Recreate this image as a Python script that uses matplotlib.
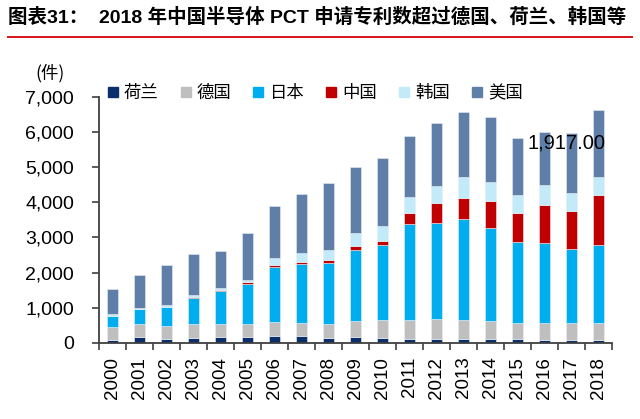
import matplotlib
matplotlib.use("Agg")
import matplotlib.pyplot as plt
import numpy as np
from matplotlib.lines import Line2D
from matplotlib.ticker import FixedLocator, FuncFormatter

plt.rcParams['font.family'] = ['Liberation Sans', 'Noto Sans CJK SC', 'DejaVu Sans']

years = [str(y) for y in range(2000, 2019)]
series_names = ['荷兰', '德国', '日本', '中国', '韩国', '美国']
netherlands = [85, 171, 105, 134, 153, 153, 191, 191, 143, 171, 143, 114, 97, 105, 97, 97, 77, 77, 77]
germany = [353, 370, 371, 399, 380, 380, 399, 375, 398, 456, 495, 524, 587, 542, 530, 456, 493, 476, 476]
japan = [332, 409, 551, 750, 930, 1149, 1576, 1680, 1720, 2014, 2137, 2735, 2726, 2869, 2641, 2307, 2279, 2125, 2230]
china = [5, 5, 5, 10, 37, 38, 47, 50, 95, 123, 131, 314, 562, 598, 769, 844, 1066, 1066, 1417]
korea = [43, 30, 38, 67, 50, 66, 190, 250, 285, 353, 419, 456, 501, 598, 533, 513, 569, 530, 521]
usa = [702, 950, 1140, 1158, 1053, 1329, 1501, 1690, 1900, 1898, 1928, 1746, 1777, 1852, 1851, 1606, 1527, 1692, 1917]

colors = ['#0b2f6b', '#bfbfbf', '#00adef', '#c00000', '#c2eaf9', '#5f7fa9']
data = [netherlands, germany, japan, china, korea, usa]

fig = plt.figure(figsize=(6.4, 4.19), dpi=100)
ax = fig.add_axes([0.1547, 0.182, 0.8013, 0.5865])

x = np.arange(len(years))
bottom = np.zeros(len(years))
handles = []
for name, vals, c in zip(series_names, data, colors):
    v = np.array(vals, dtype=float)
    ax.bar(x, v, 0.4, bottom=bottom, color=c, edgecolor='#e8eef5', linewidth=0.4, label=name)
    bottom += v
    handles.append(Line2D([], [], marker='s', linestyle='none', markersize=7.5,
                          markerfacecolor=c, markeredgecolor=c))

ax.set_xlim(-0.5, len(years) - 0.5)
ax.set_ylim(0, 7000)
ax.set_yticks(np.arange(0, 7001, 1000))
ax.yaxis.set_major_formatter(FuncFormatter(lambda v, p: f"{int(v):,}"))
ax.set_xticks(x)
ax.set_xticklabels(years, rotation=90, fontsize=13.5)
ax.xaxis.set_minor_locator(FixedLocator(np.arange(-0.5, len(years), 1.0)))
ax.tick_params(axis='x', which='major', length=0, pad=10)
ax.tick_params(axis='x', which='minor', length=5, width=1.2, color='#404040')
ax.tick_params(axis='y', length=5, width=1.2, color='#404040', labelsize=14, pad=13)

for s in ['top', 'right']:
    ax.spines[s].set_visible(False)
for s in ['left', 'bottom']:
    ax.spines[s].set_color('#404040')
    ax.spines[s].set_linewidth(1.3)

ax.text(16.83, 5680, f"{usa[-1]:,.2f}", ha='center', va='center', fontsize=14.5, color='black')

leg = fig.legend(handles, series_names, loc='center left', bbox_to_anchor=(0.142, 0.778),
                 ncol=6, frameon=False, handlelength=0.7, handletextpad=0.3,
                 columnspacing=1.2, prop={'family': ['Noto Sans CJK SC'], 'size': 12.5})

fig.text(0.056, 0.826, '(件)', fontsize=12.5, ha='left', va='center',
         family=['Noto Sans CJK SC', 'DejaVu Sans'])

fig.text(0.0125, 0.958, '图表31：  2018 年中国半导体 PCT 申请专利数超过德国、荷兰、韩国等',
         fontsize=14, fontweight='bold', ha='left', va='center')
fig.add_artist(Line2D([0.0125, 0.988], [0.911, 0.911], transform=fig.transFigure,
                      color='#d9141b', linewidth=1.4))

fig.savefig('out.png', dpi=100)
